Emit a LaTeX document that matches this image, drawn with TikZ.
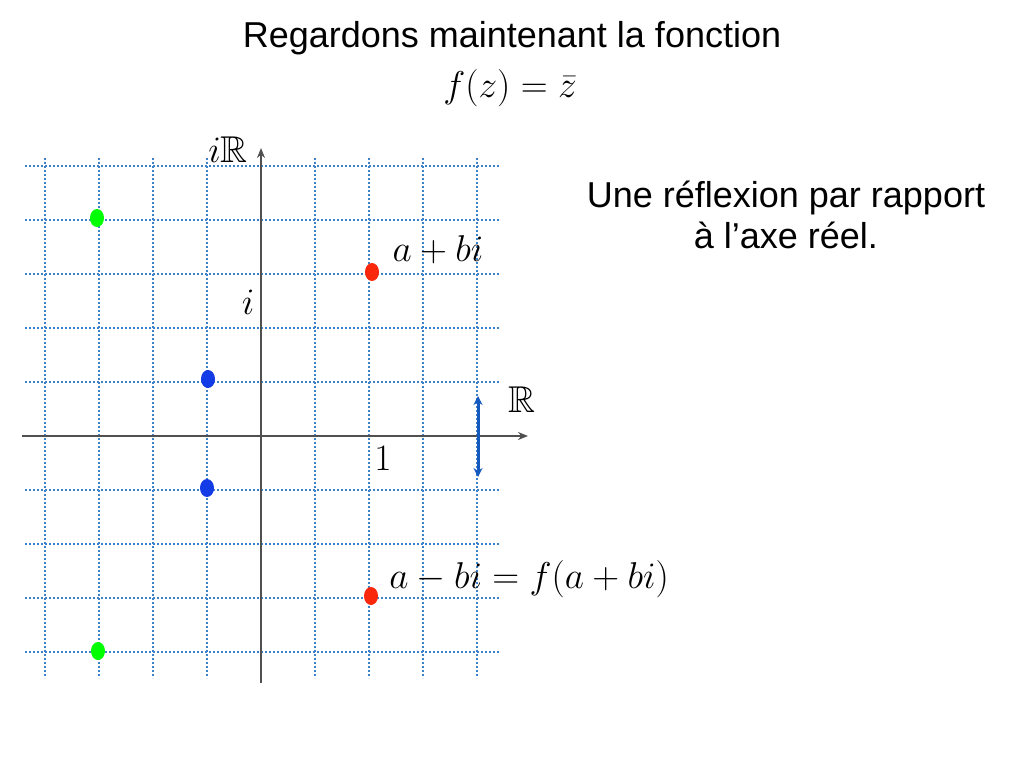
\documentclass[tikz,border=0pt]{standalone}
\usepackage{fontspec}
\setmainfont{Liberation Sans}
\usepackage{amssymb}
\usetikzlibrary{shapes.geometric,arrows.meta}
\definecolor{gridc}{RGB}{60,130,200}
\definecolor{axc}{RGB}{80,80,80}
\definecolor{bdot}{RGB}{20,60,230}
\definecolor{rdot}{RGB}{250,40,10}
\definecolor{arrc}{RGB}{20,90,190}
\begin{document}
\begin{tikzpicture}[x=1pt,y=-1pt,
 gridl/.style={draw=gridc,dash pattern=on 2pt off 2pt,line width=2pt},
 ax/.style={draw=axc,line width=2.2pt,-{Stealth[length=10pt,width=8pt]}},
 dot/.style={ellipse,minimum width=14pt,minimum height=18pt,inner sep=0pt,fill=#1},
 mlab/.style={font=\fontsize{24.88}{30}\selectfont,scale=1.5,transform shape},
 txt/.style={font=\fontsize{36}{41}\selectfont}]
\useasboundingbox (0,0) rectangle (1024,768);
\foreach \x in {45,99,153,207,315,369,423,477} \draw[gridl] (\x,158) -- (\x,678);
\foreach \y in {166,220,274,328,382,490,544,598,652} \draw[gridl] (25,\y) -- (500,\y);
\coordinate (xl) at (22,436); \coordinate (xr) at (528,436);
\coordinate (yb) at (261,683); \coordinate (yt) at (261,148);
\draw[ax] (xl) -- (xr);
\draw[ax] (yb) -- (yt);
\node[dot=green] (g1) at (97,218) {};
\node[dot=green] (g2) at (98,651) {};
\node[dot=bdot] (b1) at (208,379) {};
\node[dot=bdot] (b2) at (207,488) {};
\node[dot=rdot] (r1) at (372,272) {};
\node[dot=rdot] (r2) at (371,596) {};
\coordinate (at) at (478,396); \coordinate (ab) at (478,477);
\draw[arrc,line width=3pt,{Stealth[length=9pt,width=9pt]}-{Stealth[length=9pt,width=9pt]}] (at) -- (ab);
\node[mlab] (liR) at (228,150) {$i\mathbb{R}$};
\node[mlab] (li) at (248,302) {$i$};
\node[mlab] (lR) at (522,400) {$\mathbb{R}$};
\node[mlab] (l1) at (383,458) {$1$};
\node[mlab] (lab) at (438,250) {$a+bi$};
\node[mlab] (lamb) at (529,579) {$a-bi=f(a+bi)$};
\node[txt] (t1) at (512,38) {Regardons maintenant la fonction};
\node[mlab] (t2) at (510,88) {$f(z)=\bar z$};
\node[txt,align=center] (t3) at (786,215) {Une réflexion par rapport\\à l’axe réel.};
\end{tikzpicture}
\end{document}
